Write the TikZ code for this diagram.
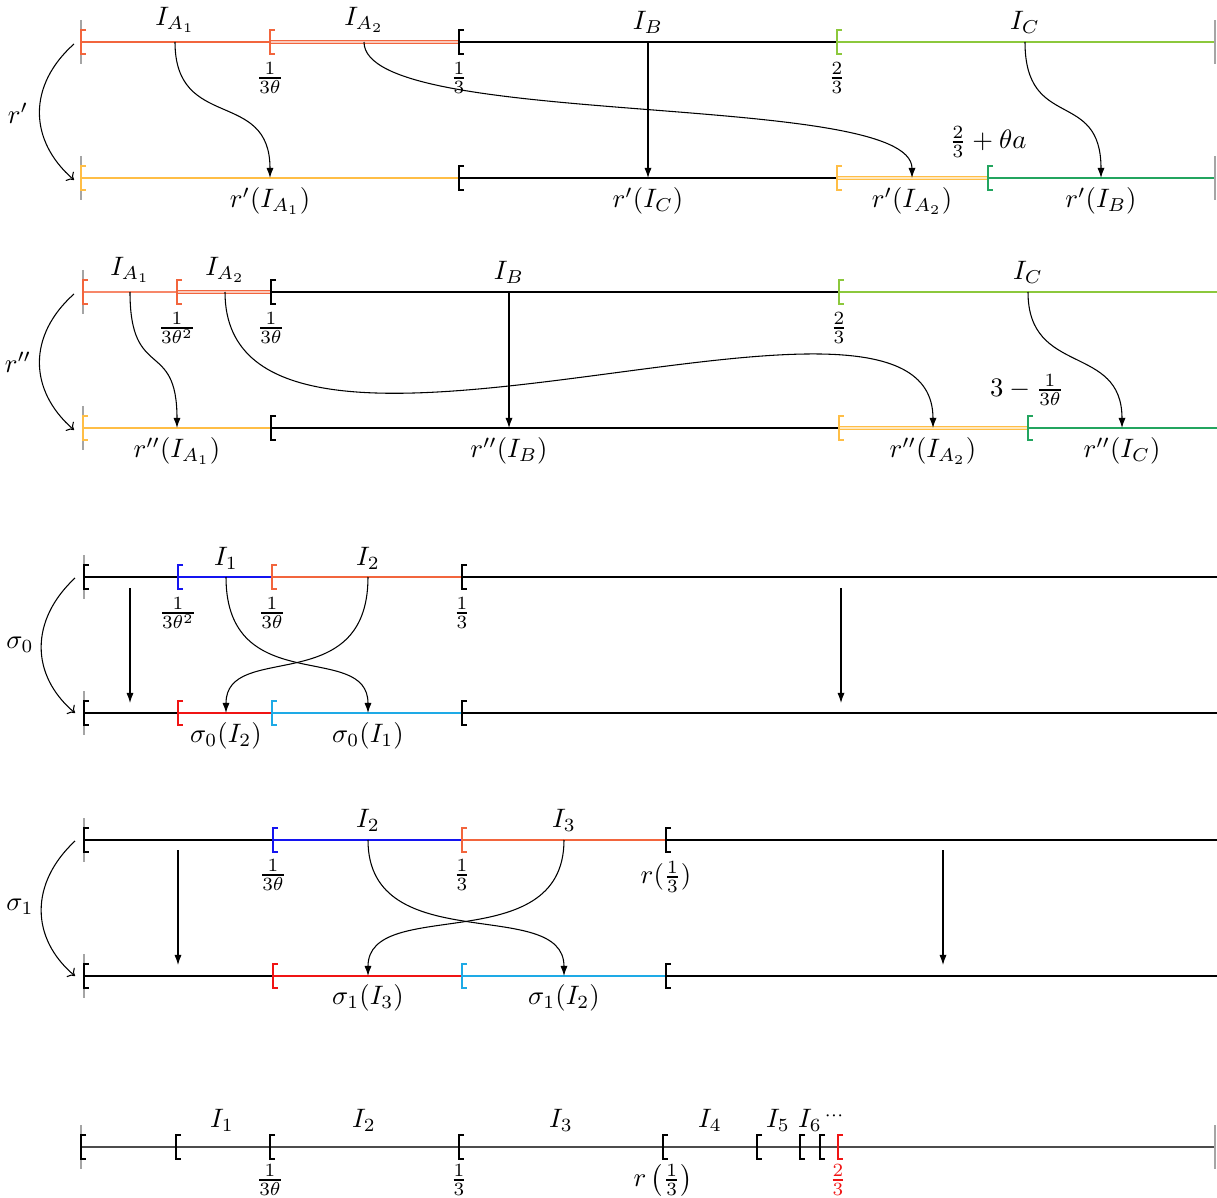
\documentclass[tikz,border=0pt]{standalone}
\usetikzlibrary{arrows.meta}

% palette
\definecolor{cA}{RGB}{242,101,61}   % red-orange
\definecolor{cAl}{RGB}{247,135,105} % light red-orange
\definecolor{cY}{RGB}{255,190,70}   % yellow-orange
\definecolor{cG}{RGB}{140,200,60}   % light green
\definecolor{cD}{RGB}{35,165,95}    % dark green
\definecolor{cB}{RGB}{20,20,240}    % blue
\definecolor{cC}{RGB}{30,170,230}   % cyan
\definecolor{cR}{RGB}{240,20,20}    % red
\definecolor{cT}{RGB}{165,165,165}  % end ticks

\tikzset{
  seg/.style={line width=0.4pt},
  dbl/.style={double=#1!35, double distance=1pt, line width=0.35pt},
  brk/.style={line width=0.7pt},
  tck/.style={cT, line width=0.55pt},
  conn/.style={line width=0.4pt, -{Latex[length=3.8pt,width=2.7pt]}},
  rmap/.style={line width=0.4pt, -{To[length=2.3pt,width=4.5pt]}},
  lbl/.style={inner sep=0pt},
}

% left bracket "[" at (x,y)
\newcommand\brk[3][black]{\draw[brk,#1] (#2+5,#3-12) -- (#2,#3-12) -- (#2,#3+12) -- (#2+5,#3+12);}
% grey end tick at (x,y)
\newcommand\tck[2]{\draw[tck] (#1,#2-22) -- (#1,#2+22);}

\begin{document}
\begin{tikzpicture}[x=0.375pt,y=-0.375pt]
\useasboundingbox (0,0) rectangle (1217,1198);

% ---------------- r' ----------------
\draw[seg,cA] (81,42) -- (270,42);
\draw[cA,dbl=cA] (270,42) -- (459,42);
\draw[seg] (459,42) -- (837,42);
\draw[seg,cG] (837,42) -- (1215,42);
\tck{81}{42} \tck{1215}{42}
\brk[cA]{81}{42} \brk[cA]{270}{42} \brk{459}{42} \brk[cG]{837}{42}

\draw[seg,cY] (81,178) -- (459,178);
\draw[seg] (459,178) -- (837,178);
\draw[cY,dbl=cY] (837,178) -- (988,178);
\draw[seg,cD] (988,178) -- (1215,178);
\tck{81}{178} \tck{1215}{178}
\brk[cY]{81}{178} \brk{459}{178} \brk[cY]{837}{178} \brk[cD]{988}{178}

\node[lbl] (ia1) at (175,20) {$I_{A_1}$};
\node[lbl] (ia2) at (364,20) {$I_{A_2}$};
\node[lbl] (ib)  at (648,22) {$I_B$};
\node[lbl] (ic)  at (1025,22) {$I_C$};
\node[lbl] (f1a) at (270,78) {$\frac{1}{3\theta}$};
\node[lbl] (f1b) at (459,78) {$\frac{1}{3}$};
\node[lbl] (f1c) at (837,78) {$\frac{2}{3}$};
\node[lbl] (f1d) at (988,142) {$\frac{2}{3}+\theta a$};
\node[lbl] (ra1) at (270,201) {$r'(I_{A_1})$};
\node[lbl] (rc)  at (648,201) {$r'(I_C)$};
\node[lbl] (ra2) at (912,201) {$r'(I_{A_2})$};
\node[lbl] (rb)  at (1101,201) {$r'(I_B)$};
\node[lbl] (rp)  at (18,113) {$r'$};

\coordinate (s1a) at (175,42);  \coordinate (t1a) at (270,178);
\coordinate (s1b) at (364,42);  \coordinate (t1b) at (912,178);
\coordinate (s1c) at (648,42);  \coordinate (t1c) at (648,178);
\coordinate (s1d) at (1025,42); \coordinate (t1d) at (1101,178);
\coordinate (m1s) at (74,44);   \coordinate (m1t) at (74,180);
\draw[conn] (s1a) .. controls +(0,90) and +(0,-90) .. (t1a);
\draw[conn] (s1b) .. controls +(0,88) and +(0,-88) .. (t1b);
\draw[conn] (s1c) -- (t1c);
\draw[conn] (s1d) .. controls +(0,90) and +(0,-90) .. (t1d);
\draw[rmap] (m1s) .. controls (28,85) and (28,140) .. (m1t);

% ---------------- r'' ----------------
\draw[seg,cAl] (83,292) -- (177,292);
\draw[cA,dbl=cA] (177,292) -- (271,292);
\draw[seg] (271,292) -- (839,292);
\draw[seg,cG] (839,292) -- (1217,292);
\tck{83}{292}
\brk[cA]{83}{292} \brk[cA]{177}{292} \brk{271}{292} \brk[cG]{839}{292}

\draw[seg,cY] (83,428) -- (271,428);
\draw[seg] (271,428) -- (839,428);
\draw[cY,dbl=cY] (839,428) -- (1028,428);
\draw[seg,cD] (1028,428) -- (1217,428);
\tck{83}{428}
\brk[cY]{83}{428} \brk{271}{428} \brk[cY]{839}{428} \brk[cD]{1028}{428}

\node[lbl] (ja1) at (130,270) {$I_{A_1}$};
\node[lbl] (ja2) at (225,270) {$I_{A_2}$};
\node[lbl] (jb)  at (509,272) {$I_B$};
\node[lbl] (jc)  at (1028,272) {$I_C$};
\node[lbl] (f2a) at (177,328) {$\frac{1}{3\theta^2}$};
\node[lbl] (f2b) at (271,328) {$\frac{1}{3\theta}$};
\node[lbl] (f2c) at (839,328) {$\frac{2}{3}$};
\node[lbl] (f2d) at (1027,390) {$3-\frac{1}{3\theta}$};
\node[lbl] (qa1) at (177,451) {$r''(I_{A_1})$};
\node[lbl] (qb)  at (509,451) {$r''(I_B)$};
\node[lbl] (qa2) at (933,451) {$r''(I_{A_2})$};
\node[lbl] (qc)  at (1122,451) {$r''(I_C)$};
\node[lbl] (rpp) at (18,362) {$r''$};

\coordinate (s2a) at (130,292);  \coordinate (t2a) at (177,428);
\coordinate (s2b) at (225,292);  \coordinate (t2b) at (933,428);
\coordinate (s2c) at (509,292);  \coordinate (t2c) at (509,428);
\coordinate (s2d) at (1028,292); \coordinate (t2d) at (1122,428);
\coordinate (m2s) at (74,294);   \coordinate (m2t) at (74,430);
\draw[conn] (s2a) .. controls +(0,90) and +(0,-90) .. (t2a);
\draw[conn] (s2b) .. controls (225,540) and (933,230) .. (t2b);
\draw[conn] (s2c) -- (t2c);
\draw[conn] (s2d) .. controls +(0,85) and +(0,-85) .. (t2d);
\draw[rmap] (m2s) .. controls (28,335) and (28,390) .. (m2t);

% ---------------- sigma_0 ----------------
\draw[seg] (84,577) -- (178,577);
\draw[seg,cB] (178,577) -- (272,577);
\draw[seg,cA] (272,577) -- (462,577);
\draw[seg] (462,577) -- (1217,577);
\tck{84}{577}
\brk{84}{577} \brk[cB]{178}{577} \brk[cA]{272}{577} \brk{462}{577}

\draw[seg] (84,713) -- (178,713);
\draw[seg,cR] (178,713) -- (272,713);
\draw[seg,cC] (272,713) -- (462,713);
\draw[seg] (462,713) -- (1217,713);
\tck{84}{713}
\brk{84}{713} \brk[cR]{178}{713} \brk[cC]{272}{713} \brk{462}{713}

\node[lbl] (k1) at (226,558) {$I_1$};
\node[lbl] (k2) at (368,558) {$I_2$};
\node[lbl] (f3a) at (178,613) {$\frac{1}{3\theta^2}$};
\node[lbl] (f3b) at (272,613) {$\frac{1}{3\theta}$};
\node[lbl] (f3c) at (462,613) {$\frac{1}{3}$};
\node[lbl] (u2) at (226,736) {$\sigma_0(I_2)$};
\node[lbl] (u1) at (368,736) {$\sigma_0(I_1)$};
\node[lbl] (sg0) at (20,645) {$\sigma_0$};

\coordinate (s3a) at (226,577); \coordinate (t3a) at (368,713);
\coordinate (s3b) at (368,577); \coordinate (t3b) at (226,713);
\coordinate (s3c) at (130,588); \coordinate (t3c) at (130,703);
\coordinate (s3d) at (841,588); \coordinate (t3d) at (841,703);
\coordinate (m3s) at (75,578);  \coordinate (m3t) at (75,713);
\draw[conn] (s3a) .. controls (226,700) and (368,640) .. (t3a);
\draw[conn] (s3b) .. controls (368,700) and (226,640) .. (t3b);
\draw[conn] (s3c) -- (t3c);
\draw[conn] (s3d) -- (t3d);
\draw[rmap] (m3s) .. controls (30,620) and (30,675) .. (m3t);

% ---------------- sigma_1 ----------------
\draw[seg] (84,840) -- (273,840);
\draw[seg,cB] (273,840) -- (462,840);
\draw[seg,cA] (462,840) -- (666,840);
\draw[seg] (666,840) -- (1217,840);
\tck{84}{840}
\brk{84}{840} \brk[cB]{273}{840} \brk[cA]{462}{840} \brk{666}{840}

\draw[seg] (84,976) -- (273,976);
\draw[seg,cR] (273,976) -- (462,976);
\draw[seg,cC] (462,976) -- (666,976);
\draw[seg] (666,976) -- (1217,976);
\tck{84}{976}
\brk{84}{976} \brk[cR]{273}{976} \brk[cC]{462}{976} \brk{666}{976}

\node[lbl] (l2) at (368,820) {$I_2$};
\node[lbl] (l3) at (564,820) {$I_3$};
\node[lbl] (f4a) at (273,875) {$\frac{1}{3\theta}$};
\node[lbl] (f4b) at (462,875) {$\frac{1}{3}$};
\node[lbl] (f4c) at (666,877) {$r(\frac{1}{3})$};
\node[lbl] (v3) at (368,998) {$\sigma_1(I_3)$};
\node[lbl] (v2) at (564,998) {$\sigma_1(I_2)$};
\node[lbl] (sg1) at (20,907) {$\sigma_1$};

\coordinate (s4a) at (368,840); \coordinate (t4a) at (564,976);
\coordinate (s4b) at (564,840); \coordinate (t4b) at (368,976);
\coordinate (s4c) at (178,850); \coordinate (t4c) at (178,965);
\coordinate (s4d) at (943,850); \coordinate (t4d) at (943,965);
\coordinate (m4s) at (75,841);  \coordinate (m4t) at (75,976);
\draw[conn] (s4a) .. controls (368,960) and (564,895) .. (t4a);
\draw[conn] (s4b) .. controls (564,960) and (368,895) .. (t4b);
\draw[conn] (s4c) -- (t4c);
\draw[conn] (s4d) -- (t4d);
\draw[rmap] (m4s) .. controls (30,883) and (30,938) .. (m4t);

% ---------------- partition of [0,1) ----------------
\draw[black!70, line width=0.75pt] (81,1147) -- (1215,1147);
\tck{81}{1147} \tck{1215}{1147}
\brk{81}{1147} \brk{176}{1147} \brk{270}{1147} \brk{459}{1147}
\brk{663}{1147} \brk{757}{1147} \brk{800}{1147} \brk{820}{1147}
\brk[cR]{838}{1147}

\node[lbl] (n1) at (222,1120) {$I_1$};
\node[lbl] (n2) at (364,1120) {$I_2$};
\node[lbl] (n3) at (561,1120) {$I_3$};
\node[lbl] (n4) at (710,1120) {$I_4$};
\node[lbl] (n5) at (778,1120) {$I_5$};
\node[lbl] (n6) at (810,1120) {$I_6$};
\node[lbl] (nd) at (834,1116) {$\scriptstyle\cdots$};
\node[lbl] (f5a) at (270,1180) {$\frac{1}{3\theta}$};
\node[lbl] (f5b) at (459,1180) {$\frac{1}{3}$};
\node[lbl] (f5c) at (663,1180) {$r\left(\frac{1}{3}\right)$};
\node[lbl,cR] (f5d) at (838,1180) {$\frac{2}{3}$};
\end{tikzpicture}
\end{document}
